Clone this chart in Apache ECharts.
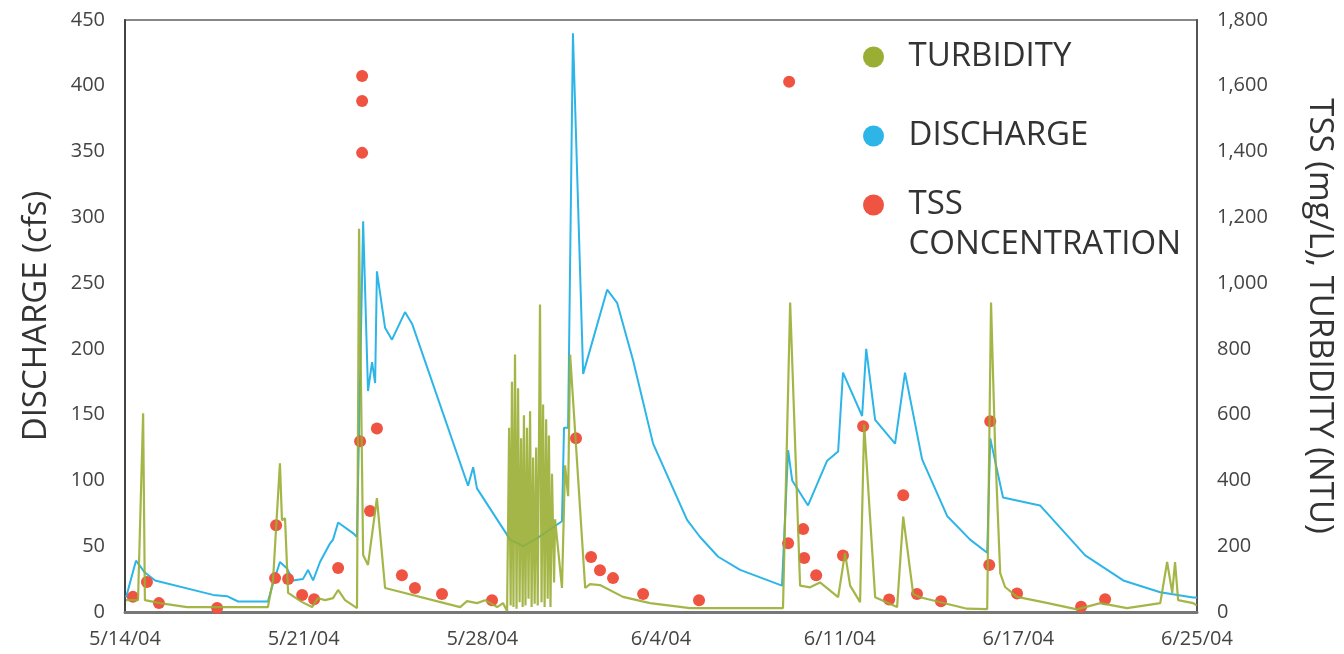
<!DOCTYPE html>
<html>
<head>
<meta charset="utf-8">
<title>Discharge, Turbidity and TSS</title>
<script src="https://cdn.jsdelivr.net/npm/echarts@6/dist/echarts.min.js"></script>
<style>
  html, body { margin: 0; padding: 0; background: #fff; }
  #chart { width: 1344px; height: 654px; }
</style>
</head>
<body>
<div id="chart"></div>
<script>
// x values are days since 5/14/04
const tickDays = [0, 7, 14, 21, 28, 35, 42]
const tickLabels = ['5/14/04', '5/21/04', '5/28/04', '6/4/04', '6/11/04', '6/17/04', '6/25/04']

// discharge (cfs), left axis
const dischargeData = [
  [0.04, 11], [0.43, 39], [0.78, 30], [1.18, 24], [3.45, 13], [4.0, 12], [4.43, 8], [5.6, 8],
  [5.76, 19], [6.07, 38], [6.35, 33], [6.58, 24], [6.97, 25], [7.17, 32], [7.37, 24], [7.64, 38],
  [8.03, 52], [8.15, 55], [8.35, 68], [8.93, 60], [9.09, 57], [9.33, 297], [9.52, 168], [9.68, 190],
  [9.8, 174], [9.87, 259], [10.19, 216], [10.46, 207], [10.97, 228], [11.25, 219], [13.44, 96],
  [13.64, 110], [13.79, 94], [15.09, 55], [15.6, 50], [16.14, 56], [17.12, 69], [17.2, 140],
  [17.36, 140], [17.55, 440], [17.95, 181], [18.89, 245], [19.28, 235], [19.91, 191], [20.69, 128],
  [22.02, 70], [22.53, 57], [23.24, 42], [24.1, 32], [25.74, 20], [25.98, 123], [26.14, 100],
  [26.76, 81], [27.51, 115], [27.94, 122], [28.13, 182], [28.88, 149], [29.04, 200], [29.39, 146],
  [30.17, 128], [30.56, 182], [31.23, 116], [32.21, 73], [33.11, 55], [33.78, 45], [33.9, 132],
  [34.4, 87], [35.85, 81], [37.62, 43], [39.11, 24], [40.56, 15], [41.85, 11], [42, 11],
]

// turbidity (NTU), right axis
const turbidityData = [
  [0.04, 36], [0.51, 36], [0.71, 604], [0.78, 36], [1.37, 27], [2.43, 15], [5.6, 15], [5.8, 97],
  [6.07, 452], [6.15, 279], [6.27, 285], [6.39, 58], [6.94, 30], [7.33, 15], [7.56, 42], [7.84, 36],
  [8.15, 42], [8.35, 67], [8.62, 36], [9.09, 12], [9.17, 1165], [9.33, 173], [9.52, 143], [9.87, 346],
  [10.19, 73], [13.13, 15], [13.4, 33], [13.79, 27], [14.11, 36], [14.58, 15], [14.81, 27], [14.97, 3],
  [15.05, 560], [15.11, 20], [15.16, 700], [15.22, 15], [15.28, 783], [15.34, 10], [15.4, 680],
  [15.46, 30], [15.52, 528], [15.58, 15], [15.63, 598], [15.69, 20], [15.75, 560], [15.81, 40],
  [15.87, 610], [15.93, 15], [15.99, 470], [16.05, 25], [16.11, 500], [16.17, 20], [16.26, 935],
  [16.32, 30], [16.38, 631], [16.44, 15], [16.5, 586], [16.56, 40], [16.61, 537], [16.67, 15],
  [16.73, 420], [16.81, 90], [16.85, 282], [17.12, 73], [17.24, 446], [17.36, 352], [17.44, 783],
  [18.03, 73], [18.22, 85], [18.61, 82], [19.51, 46], [20.57, 27], [22.14, 12], [25.78, 12],
  [26.06, 941], [26.45, 80], [26.84, 75], [27.23, 90], [27.94, 45], [28.21, 180], [28.41, 80],
  [28.8, 30], [28.96, 570], [29.39, 45], [30.25, 15], [30.49, 290], [30.88, 55], [31.15, 45],
  [32.99, 10], [33.78, 9], [33.93, 941], [34.09, 500], [34.29, 118], [34.48, 76], [34.95, 46],
  [35.97, 30], [37.3, 8], [38.21, 27], [39.26, 12], [40.56, 27], [40.83, 152], [41.03, 58],
  [41.14, 152], [41.26, 36], [41.85, 27], [41.99, 20],
]

// TSS concentration (mg/L), right axis
const tssData = [
  [0.31, 46], [0.86, 91], [1.33, 27], [3.61, 12], [5.92, 264], [5.88, 103], [6.39, 100], [6.94, 52],
  [7.41, 39], [8.35, 134], [9.29, 1630], [9.29, 1554], [9.29, 1396], [9.21, 519], [9.87, 558],
  [9.6, 307], [10.85, 112], [11.36, 73], [12.42, 55], [14.38, 36], [17.67, 528], [18.26, 167],
  [18.61, 127], [19.12, 103], [20.3, 55], [22.49, 36], [26.02, 1612], [25.98, 209], [26.57, 252],
  [26.61, 164], [27.08, 112], [28.13, 172], [28.92, 565], [29.94, 38], [30.49, 355], [31.03, 55],
  [31.97, 33], [33.86, 143], [33.9, 580], [34.95, 56], [37.46, 16], [38.4, 39],
]

const chart = echarts.init(document.getElementById('chart'))

const font = '"Open Sans", "Noto Sans", sans-serif'
const legendBase = {
  orient: 'vertical',
  left: 863,
  padding: 0,
  itemWidth: 60,
  itemHeight: 21,
  icon: 'circle',
  selectedMode: false,
  textStyle: { fontFamily: font, fontSize: 33, color: '#333', lineHeight: 38 },
}

const option = {
  backgroundColor: '#fff',
  animation: false,
  grid: {
    left: 125,
    right: 147,
    top: 20,
    bottom: 42,
    outerBoundsMode: 'none',
    show: true,
    borderColor: '#888',
    borderWidth: 2,
  },
  legend: [
    Object.assign({}, legendBase, { top: 38, data: ['TURBIDITY'] }),
    Object.assign({}, legendBase, { top: 117, data: ['DISCHARGE'] }),
    Object.assign({}, legendBase, {
      top: 145,
      data: ['TSS CONCENTRATION'],
      formatter: () => ' \nTSS\nCONCENTRATION',
      textStyle: { fontFamily: font, fontSize: 33, color: '#333', lineHeight: 40 },
    }),
  ],
  xAxis: {
    type: 'value',
    min: 0,
    max: 42,
    splitLine: { show: false },
    axisTick: { show: false },
    axisLine: { show: true, lineStyle: { color: '#777', width: 3 } },
    axisLabel: {
      customValues: tickDays,
      formatter: (v) => tickLabels[tickDays.indexOf(v)],
      fontFamily: font,
      fontSize: 20,
      color: '#444',
      margin: 17,
    },
  },
  yAxis: [
    {
      type: 'value',
      min: 0,
      max: 450,
      interval: 50,
      name: 'DISCHARGE (cfs)',
      nameLocation: 'middle',
      nameGap: 72,
      nameTextStyle: { fontFamily: font, fontSize: 33, color: '#333' },
      splitLine: { show: false },
      axisTick: { show: false },
      axisLine: { show: true, lineStyle: { color: '#444', width: 2 } },
      axisLabel: { fontFamily: font, fontSize: 20, color: '#444', margin: 20 },
    },
    {
      type: 'value',
      min: 0,
      max: 1800,
      interval: 200,
      position: 'right',
      name: 'TSS (mg/L), TURBIDITY (NTU)',
      nameLocation: 'middle',
      nameRotate: -90,
      nameGap: 106,
      nameTextStyle: { fontFamily: font, fontSize: 33, color: '#333' },
      splitLine: { show: false },
      axisTick: { show: false },
      axisLine: { show: true, lineStyle: { color: '#555', width: 2 } },
      axisLabel: {
        fontFamily: font,
        fontSize: 20,
        color: '#444',
        margin: 20,
        formatter: (v) => v.toLocaleString('en-US'),
      },
    },
  ],
  series: [
    {
      name: 'DISCHARGE',
      type: 'line',
      yAxisIndex: 0,
      data: dischargeData,
      symbol: 'none',
      color: '#2DB5E8',
      lineStyle: { width: 2, color: '#2DB5E8' },
      z: 2,
    },
    {
      name: 'TSS CONCENTRATION',
      type: 'scatter',
      yAxisIndex: 1,
      data: tssData,
      symbolSize: 12,
      color: '#EF5341',
      itemStyle: { color: '#EF5341', opacity: 1 },
      z: 3,
    },
    {
      name: 'TURBIDITY',
      type: 'line',
      yAxisIndex: 1,
      data: turbidityData,
      symbol: 'none',
      color: '#9AAE34',
      lineStyle: { width: 2.2, color: '#9AAE34', opacity: 0.9 },
      z: 4,
    },
  ],
}

chart.setOption(option)
</script>
</body>
</html>
